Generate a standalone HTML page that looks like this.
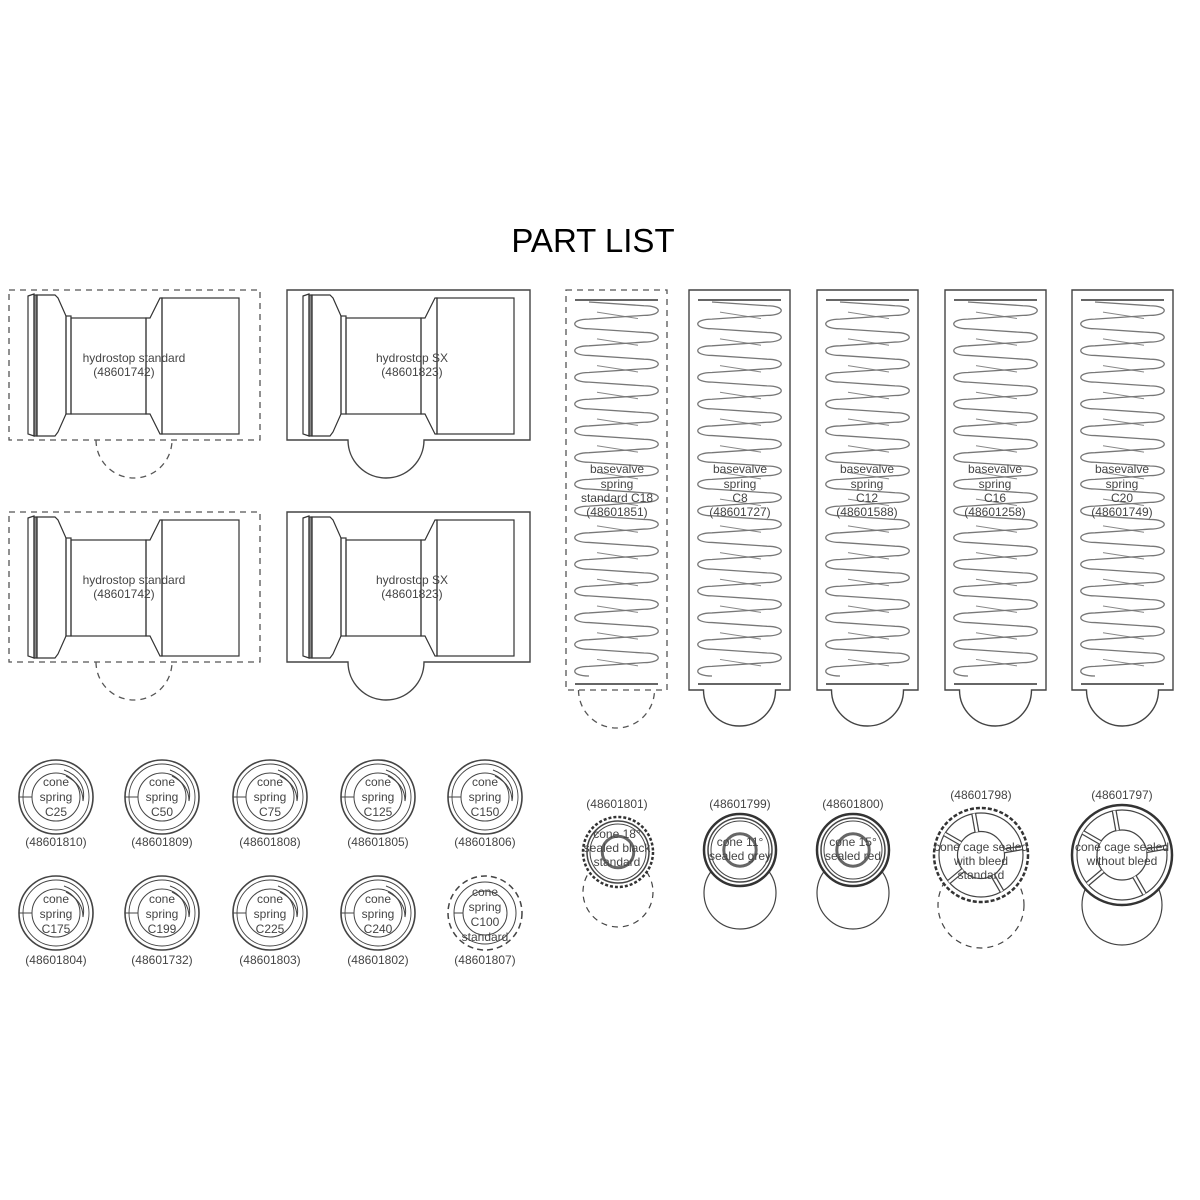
<!DOCTYPE html>
<html><head><meta charset="utf-8"><style>
html,body{margin:0;padding:0;background:#fff}
svg{display:block}
text{font-family:"Liberation Sans",Arial,sans-serif;fill:#444;text-anchor:middle}
</style></head><body>
<svg id="s" width="1200" height="1200" viewBox="0 0 1200 1200" xmlns="http://www.w3.org/2000/svg">
<defs>
<g id="hs" fill="none" stroke="#333" stroke-width="1.2">
  <path d="M28,296 L34,294 L34,436 L28,434 Z"/>
  <rect x="34" y="295" width="3" height="141" fill="#888"/>
  <path d="M37,295 L55,295 L58,298 L66,316 L66,414 L58,432 L55,436 L37,436 Z"/>
  <rect x="66" y="316" width="5" height="98"/>
  <rect x="71" y="318" width="75" height="96"/>
  <path d="M146,318 L150,318 L160,298 L162,298 L162,434 L160,434 L150,414 L146,414 Z"/>
  <rect x="162" y="298" width="77" height="136"/>
</g>
<g id="cs" fill="none" stroke="#444">
  <circle r="37" stroke-width="1.6"/>
  <circle r="33" stroke-width="0.9"/>
  <circle r="24" stroke-width="1"/>
  <line x1="-37" y1="0" x2="-24" y2="0"/>
  <path d="M8,-27 C22,-22 30,-10 27,4 C27,-8 20,-16 10,-21" stroke-width="1"/>
</g>
</defs>
<text x="593" y="252" style="font-size:33px;fill:#000">PART LIST</text>
<g id="sh"></g>
<text x="134" y="362" font-size="12">hydrostop standard</text>
<text x="124" y="376" font-size="12">(48601742)</text>
<text x="412" y="362" font-size="12">hydrostop SX</text>
<text x="412" y="376" font-size="12">(48601823)</text>
<text x="134" y="584" font-size="12">hydrostop standard</text>
<text x="124" y="598" font-size="12">(48601742)</text>
<text x="412" y="584" font-size="12">hydrostop SX</text>
<text x="412" y="598" font-size="12">(48601823)</text>
<g font-size="12">
<text x="617" y="473">basevalve</text><text x="617" y="488">spring</text><text x="617" y="502">standard C18</text><text x="617" y="516">(48601851)</text>
<text x="740" y="473">basevalve</text><text x="740" y="488">spring</text><text x="740" y="502">C8</text><text x="740" y="516">(48601727)</text>
<text x="867" y="473">basevalve</text><text x="867" y="488">spring</text><text x="867" y="502">C12</text><text x="867" y="516">(48601588)</text>
<text x="995" y="473">basevalve</text><text x="995" y="488">spring</text><text x="995" y="502">C16</text><text x="995" y="516">(48601258)</text>
<text x="1122" y="473">basevalve</text><text x="1122" y="488">spring</text><text x="1122" y="502">C20</text><text x="1122" y="516">(48601749)</text>
</g>
<g font-size="12">
<text x="56" y="786">cone</text><text x="56" y="801">spring</text><text x="56" y="816">C25</text><text x="56" y="846">(48601810)</text>
<text x="162" y="786">cone</text><text x="162" y="801">spring</text><text x="162" y="816">C50</text><text x="162" y="846">(48601809)</text>
<text x="270" y="786">cone</text><text x="270" y="801">spring</text><text x="270" y="816">C75</text><text x="270" y="846">(48601808)</text>
<text x="378" y="786">cone</text><text x="378" y="801">spring</text><text x="378" y="816">C125</text><text x="378" y="846">(48601805)</text>
<text x="485" y="786">cone</text><text x="485" y="801">spring</text><text x="485" y="816">C150</text><text x="485" y="846">(48601806)</text>
<text x="56" y="903">cone</text><text x="56" y="918">spring</text><text x="56" y="933">C175</text><text x="56" y="964">(48601804)</text>
<text x="162" y="903">cone</text><text x="162" y="918">spring</text><text x="162" y="933">C199</text><text x="162" y="964">(48601732)</text>
<text x="270" y="903">cone</text><text x="270" y="918">spring</text><text x="270" y="933">C225</text><text x="270" y="964">(48601803)</text>
<text x="378" y="903">cone</text><text x="378" y="918">spring</text><text x="378" y="933">C240</text><text x="378" y="964">(48601802)</text>
<text x="485" y="896">cone</text><text x="485" y="911">spring</text><text x="485" y="926">C100</text><text x="485" y="941">standard</text><text x="485" y="964">(48601807)</text>
</g>
<g font-size="12">
<text x="617" y="808">(48601801)</text>
<text x="617" y="838">cone 18°</text><text x="617" y="852">sealed black</text><text x="617" y="866">standard</text>
<text x="740" y="808">(48601799)</text>
<text x="740" y="846">cone 11°</text><text x="740" y="860">sealed grey</text>
<text x="853" y="808">(48601800)</text>
<text x="853" y="846">cone 15°</text><text x="853" y="860">sealed red</text>
<text x="981" y="799">(48601798)</text>
<text x="981" y="851">cone cage sealed</text><text x="981" y="865">with bleed</text><text x="981" y="879">standard</text>
<text x="1122" y="799">(48601797)</text>
<text x="1122" y="851">cone cage sealed</text><text x="1122" y="865">without bleed</text>
</g>
</svg>
<script>
var NS="http://www.w3.org/2000/svg",g=document.getElementById("sh");
function el(t,a){var e=document.createElementNS(NS,t);for(var k in a)e.setAttribute(k,a[k]);g.appendChild(e);return e;}
var D="6,5";
[0,222].forEach(function(dy){
 el("rect",{x:9,y:290+dy,width:251,height:150,fill:"none",stroke:"#555","stroke-dasharray":D,"stroke-width":1.3});
 el("path",{d:"M96,"+(440+dy)+" A38,38 0 0 0 172,"+(440+dy),fill:"none",stroke:"#555","stroke-dasharray":D,"stroke-width":1.3});
 el("use",{href:"#hs",transform:"translate(0,"+dy+")"});
 el("path",{d:"M287,"+(290+dy)+" H530 V"+(440+dy)+" H424 A38,38 0 0 1 348,"+(440+dy)+" H287 Z",fill:"none",stroke:"#444","stroke-width":1.4});
 el("use",{href:"#hs",transform:"translate(275,"+dy+")"});
});
[566,689,817,945,1072].forEach(function(x,i){
 var cx=x+50.5;
 if(i==0){el("rect",{x:x,y:290,width:101,height:400,fill:"none",stroke:"#555","stroke-dasharray":D,"stroke-width":1.3});
  el("path",{d:"M"+(cx-38)+",690 A38,38 0 0 0 "+(cx+38)+",690",fill:"none",stroke:"#555","stroke-dasharray":D,"stroke-width":1.3});}
 else el("path",{d:"M"+x+",290 H"+(x+101)+" V690 H"+(cx+36)+" A36,36 0 0 1 "+(cx-36)+",690 H"+x+" Z",fill:"none",stroke:"#444","stroke-width":1.4});
 var L=x+9,R=x+92;
 el("line",{x1:L,y1:300,x2:R,y2:300,stroke:"#333","stroke-width":1.5});
 el("line",{x1:L,y1:684,x2:R,y2:684,stroke:"#333","stroke-width":1.5});
 var n=14,h=(676-302)/n,s=0.14*h,t=0.36*h,d="M"+(L+14)+",302";
 for(var k=0;k<n;k++){var a=302+k*h;
  d+=" L"+(R-14)+","+(a+s)+" C"+(R+5)+","+(a+s)+" "+(R+5)+","+(a+s+t)+" "+(R-14)+","+(a+s+t);
  d+=" L"+(L+14)+","+(a+2*s+t)+" C"+(L-5)+","+(a+2*s+t)+" "+(L-5)+","+(a+h)+" "+(L+14)+","+(a+h);
  el("line",{x1:L+22,y1:a+h*0.38,x2:R-20,y2:a+h*0.62,stroke:"#888","stroke-width":1});
 }
 el("path",{d:d,fill:"none",stroke:"#777","stroke-width":1.3});
});
var xs=[56,162,270,378,485];
for(var i=0;i<10;i++){var x=xs[i%5],y=i<5?797:913;
 if(i==9){el("circle",{cx:x,cy:y,r:37,fill:"none",stroke:"#444","stroke-dasharray":"6,4","stroke-width":1.5});
  el("circle",{cx:x,cy:y,r:31,fill:"none",stroke:"#444"});el("circle",{cx:x,cy:y,r:22,fill:"none",stroke:"#444"});
  el("line",{x1:x-31,y1:y,x2:x-22,y2:y,stroke:"#444"});}
 else el("use",{href:"#cs",transform:"translate("+x+","+y+")"});
}
function cone(cx,cy,r,dash,lr,ly){
 el("circle",{cx:cx,cy:ly,r:lr,fill:"none",stroke:"#444","stroke-width":1.2,"stroke-dasharray":dash?"6,5":"none"});
 el("circle",{cx:cx,cy:cy,r:r,fill:"#fff",stroke:"#333","stroke-width":2.5,"stroke-dasharray":dash?"3,2":"none"});
 el("circle",{cx:cx,cy:cy,r:r-4,fill:"none",stroke:"#444","stroke-width":1.5});
 el("circle",{cx:cx,cy:cy,r:r-7,fill:"none",stroke:"#444","stroke-width":1});
 el("circle",{cx:cx,cy:cy,r:r*0.45,fill:"none",stroke:"#666","stroke-width":3});
}
cone(618,852,35,true,35,892);cone(740,850,36,false,36,893);cone(853,850,36,false,36,893);
function cage(cx,cy,r,dash,ly,lr){
 el("circle",{cx:cx,cy:ly,r:lr,fill:"none",stroke:"#444","stroke-width":1.2,"stroke-dasharray":dash?"6,5":"none"});
 el("circle",{cx:cx,cy:cy,r:r,fill:"#fff",stroke:"#333","stroke-width":2.5,"stroke-dasharray":dash?"4,2":"none"});
 el("circle",{cx:cx,cy:cy,r:r-5,fill:"none",stroke:"#444","stroke-width":1.2});
 el("circle",{cx:cx,cy:cy,r:r*0.5,fill:"none",stroke:"#444","stroke-width":1.2});
 [-100,-10,60,140,210].forEach(function(a){var t=a*Math.PI/180;
  el("line",{x1:cx+Math.cos(t)*r*0.5,y1:cy+Math.sin(t)*r*0.5,x2:cx+Math.cos(t)*(r-5),y2:cy+Math.sin(t)*(r-5),stroke:"#444","stroke-width":5});
  el("line",{x1:cx+Math.cos(t)*r*0.5,y1:cy+Math.sin(t)*r*0.5,x2:cx+Math.cos(t)*(r-5),y2:cy+Math.sin(t)*(r-5),stroke:"#fff","stroke-width":2.5});
 });
}
cage(981,855,47,true,905,43);cage(1122,855,50,false,905,40);
</script>
</body></html>
